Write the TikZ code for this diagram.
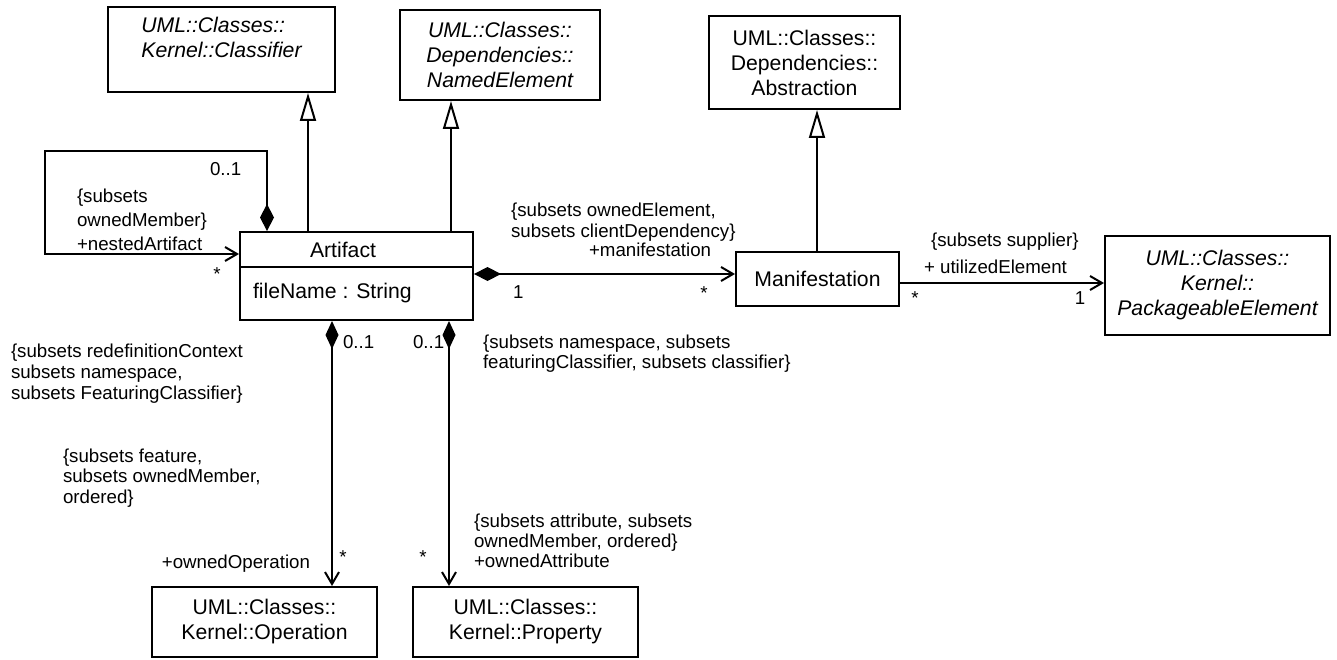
\documentclass[tikz,border=0pt]{standalone}
\usepackage{fontspec}
\setmainfont{Liberation Sans}
\usetikzlibrary{arrows.meta,calc}
\begin{document}
\begin{tikzpicture}[x=1pt,y=-1pt,
  line width=2pt,
  umlbox/.style={draw, line width=2pt, inner sep=0pt, align=center, font=\fontsize{21.2}{25}\selectfont},
  italbox/.style={umlbox, font=\fontsize{21.2}{25}\selectfont\itshape},
  boxtxt/.style={inner sep=0pt, font=\fontsize{21.2}{25}\selectfont},
  lbl/.style={inner sep=0pt, align=left, anchor=north west},
  lblfont/.style={font=\fontsize{18.7}{#1}\selectfont},
  one/.style={inner sep=0pt, font=\fontsize{18.7}{20.6}\selectfont},
  gen/.style={-{Triangle[open,length=28pt,width=16pt]}},
  comp/.style={{Diamond[length=27pt,width=14pt]}-{Straight Barb[length=12pt,width=14pt]}},
  vcomp/.style={{Diamond[length=28pt,width=13pt]}-{Straight Barb[length=12pt,width=14pt]}},
  assoc/.style={-{Straight Barb[length=12pt,width=14pt]}},
]
\useasboundingbox (0,0) rectangle (1337,660);

% boxes
\node[italbox, align=left, minimum width=227pt, minimum height=85pt] (cls) at (221.5,49.5) {UML::Classes::\\Kernel::Classifier\\\mbox{}};
\node[italbox, minimum width=200pt, minimum height=90pt] (ne) at (500,55) {UML::Classes::\\Dependencies::\\NamedElement};
\node[umlbox, minimum width=191pt, minimum height=93pt] (abs) at (804.5,62.5) {UML::Classes::\\Dependencies::\\Abstraction};
\node[umlbox, minimum width=163pt, minimum height=54pt] (man) at (817.5,279) {Manifestation};
\node[italbox, minimum width=225pt, minimum height=99pt] (pe) at (1217.5,285.5) {UML::Classes::\\Kernel::\\PackageableElement};
\node[umlbox, minimum width=225pt, minimum height=70pt] (op) at (264.5,622) {UML::Classes::\\Kernel::Operation};
\node[umlbox, minimum width=225pt, minimum height=70pt] (prop) at (525.5,622) {UML::Classes::\\Kernel::Property};

\node[draw, line width=2pt, inner sep=0pt, minimum width=233pt, minimum height=88pt] (art) at (356.5,276) {};
\coordinate (dv) at (0,267);
\draw (art.west |- dv) -- (art.east |- dv);
\node[boxtxt, anchor=base] (artname) at (343,257) {Artifact};
\node[boxtxt, anchor=base west] (artattr) at (252,298) {fileName : String};

% helper coordinates
\coordinate (g1) at (308,0);
\coordinate (g2) at (451,0);
\coordinate (g3) at (817,0);
\coordinate (v1) at (332,0);
\coordinate (v2) at (449,0);
\coordinate (h1) at (0,274);
\coordinate (h2) at (0,283);
\coordinate (lp1) at (267,151);
\coordinate (lp2) at (45,151);
\coordinate (lp3) at (45,254);

% generalizations
\draw[gen] (art.north -| g1) -- (cls.south -| g1);
\draw[gen] (art.north -| g2) -- (ne.south -| g2);
\draw[gen] (man.north -| g3) -- (abs.south -| g3);

% associations
\draw[comp] (art.north -| lp1) -- (lp1) -- (lp2) -- (lp3) -- (art.west |- lp3);
\draw[comp] (art.east |- h1) -- (man.west |- h1);
\draw[assoc] (man.east |- h2) -- (pe.west |- h2);
\draw[vcomp] (art.south -| v1) -- (op.north -| v1);
\draw[vcomp] (art.south -| v2) -- (prop.north -| v2);

% labels: self loop
\node[one, anchor=base west] (m01a) at (209,176) {0..1};
\node[lbl, lblfont=24] (lloop) at (76,187.5) {\{subsets\\ownedMember\}\\+nestedArtifact};
\node[one] (mstar1) at (217,274) {*};

% labels: manifestation
\node[lbl, lblfont=21] (lman) at (510,201.5) {\{subsets ownedElement,\\subsets clientDependency\}};
\node[one, anchor=base west] (rman) at (588,256) {+manifestation};
\node[one, anchor=base west] (m1a) at (512,298) {1};
\node[one] (mstar2) at (704,293.5) {*};

% labels: utilized element
\node[one, anchor=base west] (lsup) at (930,247) {\{subsets supplier\}};
\node[one, anchor=base west] (rsup) at (923,273) {+ utilizedElement};
\node[one] (mstar3) at (915,298.5) {*};
\node[one, anchor=base] (m1b) at (1080,304) {1};

% labels: operation / property
\node[one, anchor=base west] (m01b) at (342,348) {0..1};
\node[one, anchor=base west] (m01c) at (412,348) {0..1};
\node[lbl, lblfont=20] (lns) at (482,333.5) {\{subsets namespace, subsets\\featuringClassifier, subsets classifier\}};
\node[lbl, lblfont=21] (lredef) at (10,342.5) {\{subsets redefinitionContext\\subsets namespace,\\subsets FeaturingClassifier\}};
\node[lbl, lblfont=20.5] (lfeat) at (62,447.5) {\{subsets feature,\\subsets ownedMember,\\ordered\}};
\node[one, anchor=base east] (rop) at (311,568) {+ownedOperation};
\node[one] (mstar4) at (343,557.5) {*};
\node[one] (mstar5) at (423,557.5) {*};
\node[lbl, lblfont=20] (lattr) at (473,512.5) {\{subsets attribute, subsets\\ownedMember, ordered\}\\+ownedAttribute};
\end{tikzpicture}
\end{document}
